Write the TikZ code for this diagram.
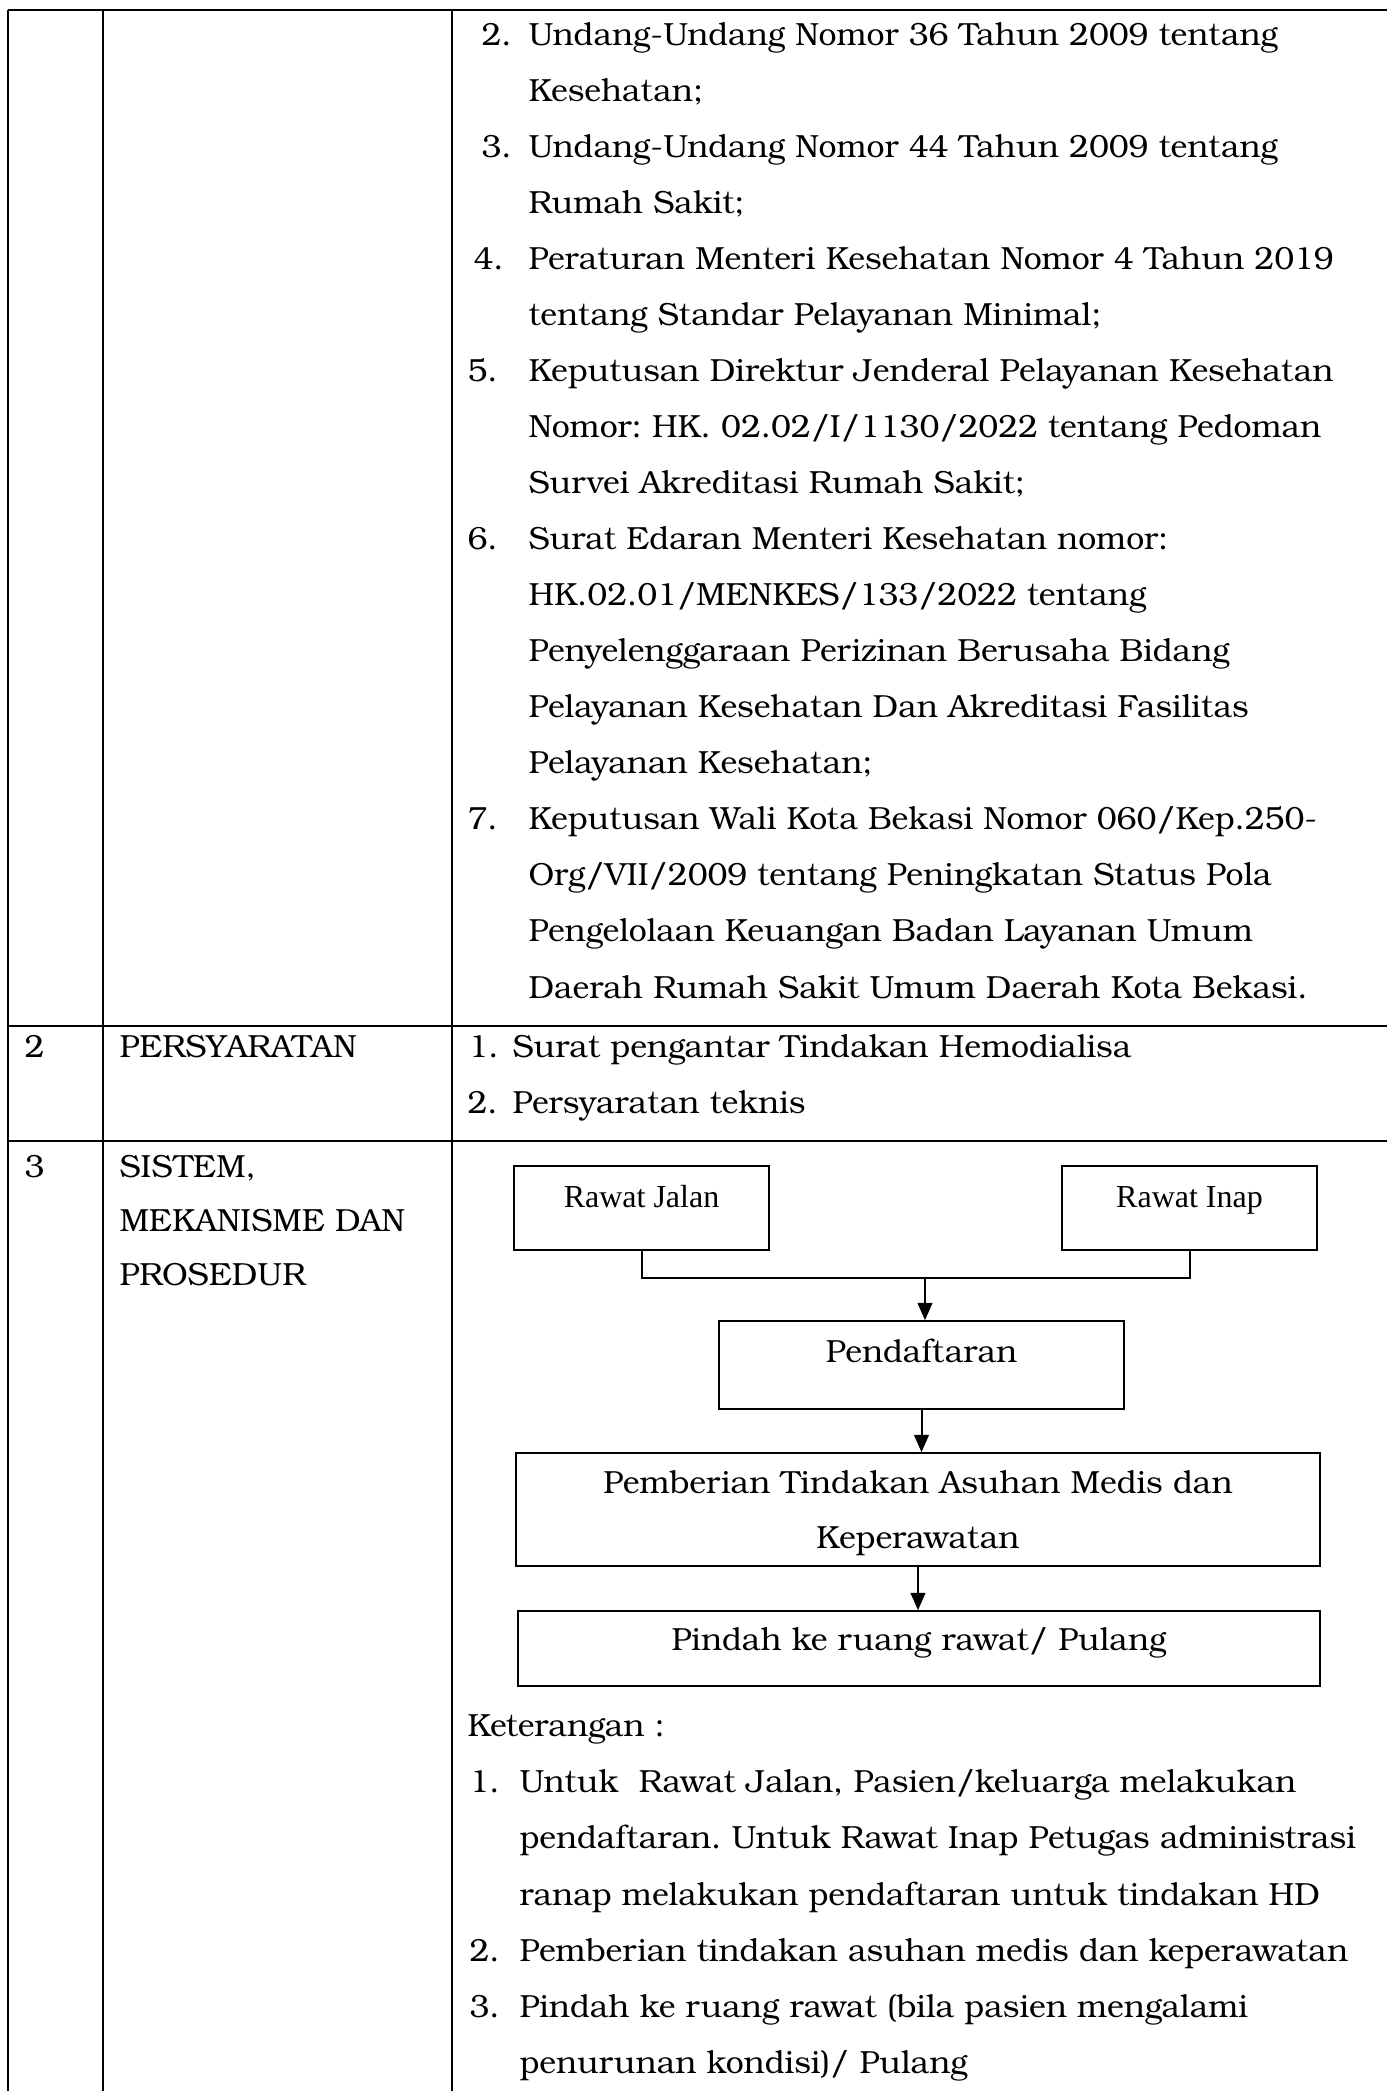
\documentclass[tikz,border=0pt]{standalone}
\usepackage{fontspec}
\setmainfont{texgyrebonum-regular.otf}
\newfontfamily\tnr{Liberation Serif}
\usetikzlibrary{arrows.meta}
\frenchspacing
\newcommand{\pxu}{0.375pt}
\tikzset{
  txt/.style={inner sep=0pt, anchor=base west, font=\fontsize{12pt}{14pt}\selectfont},
  ctxt/.style={inner sep=0pt, anchor=base, font=\fontsize{12pt}{14pt}\selectfont},
  rule/.style={line width=0.75pt},
  flowbox/.style={draw, line width=0.6pt, inner sep=0pt, minimum width=#1},
  link/.style={line width=0.75pt},
  arrowlink/.style={line width=0.75pt, -{Triangle[length=6.5pt,width=5.5pt]}}
}
% one line of text at x, at baseline of row k of the legal basis list
\newcommand{\tline}[4]{\node[txt] (#1) at (#2,{45+56.06*#3}) {#4};}
\begin{document}
\begin{tikzpicture}[x=0.375pt,y=-0.375pt]
\useasboundingbox (0,0) rectangle (1387,2091);

% table rules
\draw[rule] (7.5,10) -- (1387,10);
\draw[rule] (7.5,1026) -- (1387,1026);
\draw[rule] (7.5,1141) -- (1387,1141);
\draw[rule] (7.5,10) -- (7.5,2091);
\draw[rule] (103,10) -- (103,2091);
\draw[rule] (452,10) -- (452,2091);

% row 1: legal basis (continued)
\tline{n2}{481}{0}{2.}
\tline{a1}{528}{0}{Undang-Undang Nomor 36 Tahun 2009 tentang}
\tline{a2}{528}{1}{Kesehatan;}
\tline{n3}{481}{2}{3.}
\tline{b1}{528}{2}{Undang-Undang Nomor 44 Tahun 2009 tentang}
\tline{b2}{528}{3}{Rumah Sakit;}
\tline{n4}{473}{4}{4.}
\tline{c1}{528}{4}{Peraturan Menteri Kesehatan Nomor 4 Tahun 2019}
\tline{c2}{528}{5}{tentang Standar Pelayanan Minimal;}
\tline{n5}{467}{6}{5.}
\tline{d1}{528}{6}{Keputusan Direktur Jenderal Pelayanan Kesehatan}
\tline{d2}{528}{7}{Nomor: HK. 02.02/I/1130/2022 tentang Pedoman}
\tline{d3}{528}{8}{Survei Akreditasi Rumah Sakit;}
\tline{n6}{467}{9}{6.}
\tline{e1}{528}{9}{Surat Edaran Menteri Kesehatan nomor:}
\tline{e2}{528}{10}{HK.02.01/MENKES/133/2022 tentang}
\tline{e3}{528}{11}{Penyelenggaraan Perizinan Berusaha Bidang}
\tline{e4}{528}{12}{Pelayanan Kesehatan Dan Akreditasi Fasilitas}
\tline{e5}{528}{13}{Pelayanan Kesehatan;}
\tline{n7}{467}{14}{7.}
\tline{f1}{528}{14}{Keputusan Wali Kota Bekasi Nomor 060/Kep.250-}
\tline{f2}{528}{15}{Org/VII/2009 tentang Peningkatan Status Pola}
\tline{f3}{528}{16}{Pengelolaan Keuangan Badan Layanan Umum}
\tline{f4}{528}{17}{Daerah Rumah Sakit Umum Daerah Kota Bekasi.}

% row 2: requirements
\node[txt] (r2no) at (24,1057) {2};
\node[txt] (r2h) at (119,1057) {PERSYARATAN};
\node[txt] (p1n) at (468,1057) {1.};
\node[txt] (p1) at (512,1057) {Surat pengantar Tindakan Hemodialisa};
\node[txt] (p2n) at (467,1113) {2.};
\node[txt] (p2) at (512,1113) {Persyaratan teknis};

% row 3: system, mechanism and procedure
\node[txt] (r3no) at (24,1177) {3};
\node[txt] (r3h1) at (119,1177) {SISTEM,};
\node[txt] (r3h2) at (119,1231) {MEKANISME DAN};
\node[txt] (r3h3) at (119,1285) {PROSEDUR};

% flowchart boxes
\node[flowbox=255*\pxu, minimum height=84*\pxu] (rj) at (641.5,1208) {};
\node[flowbox=255*\pxu, minimum height=84*\pxu] (ri) at (1189.5,1208) {};
\node[flowbox=405*\pxu, minimum height=88*\pxu] (pd) at (921.5,1365) {};
\node[flowbox=804*\pxu, minimum height=113*\pxu] (pb) at (918,1509.5) {};
\node[flowbox=802*\pxu, minimum height=75*\pxu] (pl) at (919,1648.5) {};

% flowchart texts
\node[ctxt, font=\tnr\fontsize{12pt}{14pt}\selectfont] (rjT) at (641.5,1207) {Rawat Jalan};
\node[ctxt, font=\tnr\fontsize{12pt}{14pt}\selectfont] (riT) at (1189.5,1207) {Rawat Inap};
\node[ctxt] (pdT) at (921.5,1362) {Pendaftaran};
\node[ctxt] (pbT1) at (918,1493) {Pemberian Tindakan Asuhan Medis dan};
\node[ctxt] (pbT2) at (918,1548) {Keperawatan};
\node[ctxt] (plT) at (919,1650) {Pindah ke ruang rawat/ Pulang};

% connectors
\coordinate (jn) at (925,1278);
\draw[link] (rj.south) -- (rj.south |- jn) -- (ri.south |- jn) -- (ri.south);
\draw[arrowlink] (jn) -- (jn |- pd.north);
\draw[arrowlink] (pd.south) -- (pd.south |- pb.north);
\draw[arrowlink] (pb.south) -- (pb.south |- pl.north);

% notes
\node[txt] (kt) at (467,1736) {Keterangan :};
\node[txt] (k1n) at (469,1792) {1.};
\node[txt] (k1a) at (519,1792) {Untuk\ \ Rawat Jalan, Pasien/keluarga melakukan};
\node[txt] (k1b) at (519,1848) {pendaftaran. Untuk Rawat Inap Petugas administrasi};
\node[txt] (k1c) at (519,1905) {ranap melakukan pendaftaran untuk tindakan HD};
\node[txt] (k2n) at (469,1961) {2.};
\node[txt] (k2a) at (519,1961) {Pemberian tindakan asuhan medis dan keperawatan};
\node[txt] (k3n) at (469,2017) {3.};
\node[txt] (k3a) at (519,2017) {Pindah ke ruang rawat (bila pasien mengalami};
\node[txt] (k3b) at (519,2073) {penurunan kondisi)/ Pulang};
\end{tikzpicture}
\end{document}
